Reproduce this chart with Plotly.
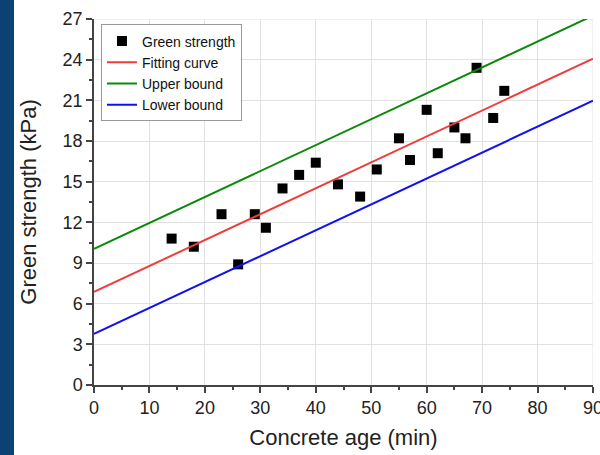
import plotly.graph_objects as go

# Data
age = [14, 18, 23, 26, 29, 31, 34, 37, 40, 44, 48, 51, 55, 57, 60, 62, 65, 67, 69, 72, 74]
strength = [10.8, 10.2, 12.6, 8.9, 12.6, 11.6, 14.5, 15.5, 16.4, 14.8, 13.9, 15.9,
            18.2, 16.6, 20.3, 17.1, 19.0, 18.2, 23.4, 19.7, 21.7]
line_x = [0, 90]
fit_y = [6.87, 24.07]
upper_y = [10.05, 27.25]
lower_y = [3.77, 20.97]
x_ticks = [0, 10, 20, 30, 40, 50, 60, 70, 80, 90]
y_ticks = [0, 3, 6, 9, 12, 15, 18, 21, 24, 27]

FONT = "Liberation Sans, Arial, sans-serif"
GRID = "#e2e2e2"

fig = go.Figure()
fig.add_trace(go.Scatter(x=age, y=strength, mode="markers", name="Green strength",
                         marker=dict(symbol="square", size=10, color="black")))
fig.add_trace(go.Scatter(x=line_x, y=fit_y, mode="lines", name="Fitting curve",
                         line=dict(color="#f03c3c", width=2)))
fig.add_trace(go.Scatter(x=line_x, y=upper_y, mode="lines", name="Upper bound",
                         line=dict(color="#0a8a0a", width=2)))
fig.add_trace(go.Scatter(x=line_x, y=lower_y, mode="lines", name="Lower bound",
                         line=dict(color="#1010f0", width=2)))

axis_common = dict(
    showgrid=True, gridcolor=GRID, gridwidth=1,
    showline=True, linecolor="#444444", linewidth=1.5,
    ticks="outside", ticklen=6, tickwidth=1.5, tickcolor="#444444",
    tickfont=dict(family=FONT, size=18, color="#222222"),
    zeroline=False, mirror=False, ticklabeloverflow="allow", automargin=False,
)

fig.update_layout(
    width=600, height=455,
    margin=dict(l=94, r=7, t=19, b=70, autoexpand=False),
    paper_bgcolor="white", plot_bgcolor="white",
    font=dict(family=FONT, color="#222222"),
    showlegend=True,
    legend=dict(x=0.014, y=0.985, xanchor="left", yanchor="top",
                bgcolor="white", bordercolor="#999999", borderwidth=1,
                font=dict(family=FONT, size=14, color="#111111"),
                tracegroupgap=0, itemwidth=30),
    xaxis=dict(range=[0, 90], tickvals=x_ticks,
               minor=dict(ticks="outside", ticklen=3, tickwidth=1.5, tickcolor="#444444",
                          dtick=5, showgrid=False),
               title=dict(text="Concrete age (min)", font=dict(family=FONT, size=22),
                          standoff=12),
               **axis_common),
    yaxis=dict(range=[0, 27], tickvals=y_ticks,
               minor=dict(ticks="outside", ticklen=3, tickwidth=1.5, tickcolor="#444444",
                          dtick=1.5, showgrid=False),
               title=dict(text="Green strength (kPa)", font=dict(family=FONT, size=22),
                          standoff=20),
               **axis_common),
    shapes=[
        dict(type="rect", xref="paper", yref="paper", x0=-94/499, x1=-80/499,
             y0=-70/366, y1=1 + 19/366, fillcolor="#0b4173", line=dict(width=0),
             layer="below"),
        dict(type="line", xref="paper", yref="y", x0=0, x1=1, y0=27, y1=27,
             line=dict(color=GRID, width=1), layer="below"),
        dict(type="line", xref="x", yref="paper", x0=90, x1=90, y0=0, y1=1,
             line=dict(color=GRID, width=1), layer="below"),
    ],
)

fig.write_html("out.html")
